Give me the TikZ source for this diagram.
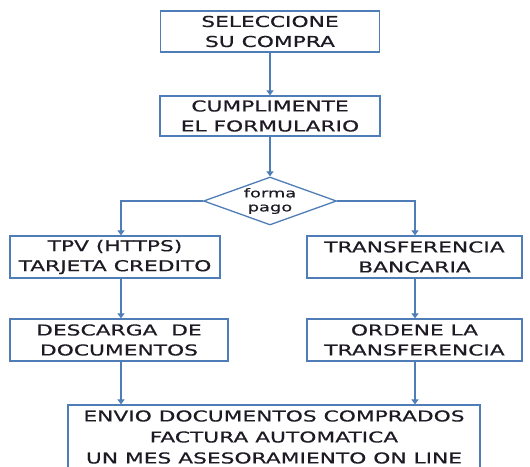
\documentclass[tikz,border=0pt]{standalone}
\usepackage{fontspec}
\usetikzlibrary{shapes.geometric,arrows.meta}
\newfontfamily\boxfont[FakeStretch=1.45,FakeBold=0.4]{DejaVu Sans}
\definecolor{edge}{HTML}{4F7DB8}
\definecolor{ink}{HTML}{1E1A24}
\begin{document}
\begin{tikzpicture}[x=1pt,y=-1pt,
  box/.style={draw=edge,line width=1.3pt,rectangle,inner sep=0pt,align=center,
    text=ink,font=\boxfont\fontsize{15}{20}\selectfont},
  arr/.style={draw=edge,line width=1.3pt,-{Triangle[width=7pt,length=5pt]}}]
\clip (0,0) rectangle (530,466);
\fill[white] (0,0) rectangle (530,466);
\coordinate (cl) at (121,0);
\coordinate (cr) at (415,0);
\node[box,minimum width=219pt,minimum height=41pt] (b1) at (270,31.5) {SELECCIONE\\SU COMPRA};
\node[box,minimum width=220pt,minimum height=40pt] (b2) at (270,116) {CUMPLIMENTE\\EL FORMULARIO};
\node[draw=edge,line width=1.3pt,diamond,aspect=2.77,minimum width=133pt,minimum height=48pt,
  inner sep=0pt,align=center,text=ink,font=\boxfont\fontsize{12.3}{14}\selectfont] (d) at (270,201) {forma\\pago};
\node[box,minimum width=210pt,minimum height=42pt] (tpv) at (115,257) {TPV (HTTPS)\\TARJETA CREDITO};
\node[box,minimum width=215pt,minimum height=42pt] (tr) at (414.5,257) {TRANSFERENCIA\\BANCARIA};
\node[box,minimum width=218pt,minimum height=42pt] (desc) at (119,340) {DESCARGA~~DE\\DOCUMENTOS};
\node[box,minimum width=215pt,minimum height=42pt] (ord) at (414.5,340) {ORDENE LA\\TRANSFERENCIA};
\node[box,minimum width=412pt,minimum height=76pt] (env) at (274,443) {};
\node[align=center,inner sep=0pt,text=ink,font=\boxfont\fontsize{15}{21}\selectfont] (envt) at (274,437)
  {ENVIO DOCUMENTOS COMPRADOS\\FACTURA AUTOMATICA\\UN MES ASESORAMIENTO ON LINE};
\draw[arr] (b1.south) -- (b2.north);
\draw[arr] (b2.south) -- (d.north);
\draw[arr] (d.west) -| (tpv.north -| cl);
\draw[arr] (d.east) -| (tr.north -| cr);
\draw[arr] (tpv.south -| cl) -- (desc.north -| cl);
\draw[arr] (tr.south -| cr) -- (ord.north -| cr);
\draw[arr] (desc.south -| cl) -- (env.north -| cl);
\draw[arr] (ord.south -| cr) -- (env.north -| cr);
\end{tikzpicture}
\end{document}
